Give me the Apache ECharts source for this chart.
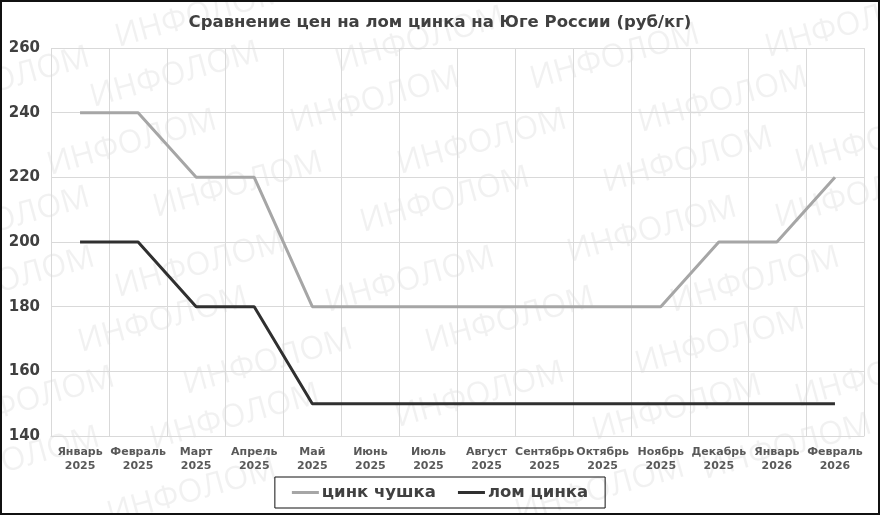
<!DOCTYPE html>
<html>
<head>
<meta charset="utf-8">
<script src="https://cdn.jsdelivr.net/npm/echarts@6/dist/echarts.min.js"></script>
<style>
html,body{margin:0;padding:0;background:#fff;}
#c{width:880px;height:515px;}
</style>
</head>
<body>
<div id="c"></div>
<script>
const categories = ['Январь\n2025','Февраль\n2025','Март\n2025','Апрель\n2025','Май\n2025','Июнь\n2025','Июль\n2025','Август\n2025','Сентябрь\n2025','Октябрь\n2025','Ноябрь\n2025','Декабрь\n2025','Январь\n2026','Февраль\n2026'];
const zincIngot = [240,240,220,220,180,180,180,180,180,180,180,200,200,220];
const zincScrap = [200,200,180,180,150,150,150,150,150,150,150,150,150,150];
const seriesNames = ['цинк чушка','лом цинка'];
const titleText = 'Сравнение цен на лом цинка на Юге России (руб/кг)';
const watermarkText = 'ИНФОЛОМ';
const watermarkSpots = [[200,15],[175,75],[132,143],[238,185],[420,40],[375,100],[482,142],[445,200],[615,57],[723,100],[688,160],[652,230],[850,25],[880,140],[860,195],[200,265],[163,320],[268,362],[235,417],[192,492],[30,400],[5,220],[5,80],[10,280],[15,460],[410,280],[510,320],[480,395],[755,280],[720,342],[677,408],[787,447],[880,375],[600,490]];

const FONT = '"DejaVu Sans", sans-serif';
const chart = echarts.init(document.getElementById('c'), null, {renderer:'canvas'});

const wm = watermarkSpots.map(p => ({
  type:'text', x:p[0], y:p[1], rotation:0.27, silent:true, z:-10,
  style:{text:watermarkText, fill:'rgba(0,0,0,0.055)', font:'32px "Open Sans", sans-serif', align:'center', verticalAlign:'middle'}
}));
wm.push({type:'rect', silent:true, z:100, shape:{x:1,y:1,width:878,height:513}, style:{fill:'none', stroke:'#111', lineWidth:2}});

chart.setOption({
  animation:false,
  backgroundColor:'#fff',
  title:{text:titleText, left:'center', top:9, textStyle:{fontFamily:FONT, fontSize:16.5, fontWeight:'bold', color:'#404040'}},
  grid:{left:51, right:16, top:48, bottom:79},
  legend:{
    data:seriesNames, left:'center', top:477, borderColor:'#111', borderWidth:1,
    padding:[7,17,7,17], itemGap:22, itemWidth:27, itemHeight:3, icon:'rect',
    textStyle:{fontFamily:FONT, fontSize:16.5, fontWeight:'bold', color:'#404040', padding:[0,0,0,-2]}
  },
  xAxis:{
    type:'category', data:categories, boundaryGap:true,
    axisLine:{lineStyle:{color:'#d9d9d9'}}, axisTick:{show:false},
    splitLine:{show:true, lineStyle:{color:'#d9d9d9', width:1}},
    axisLabel:{interval:0, margin:9, fontFamily:FONT, fontSize:11, fontWeight:'bold', color:'#595959', lineHeight:14}
  },
  yAxis:{
    type:'value', min:140, max:260, interval:20,
    axisLine:{show:false}, axisTick:{show:false},
    splitLine:{lineStyle:{color:'#d9d9d9', width:1}},
    axisLabel:{margin:11, fontFamily:FONT, fontSize:15, fontWeight:'bold', color:'#404040'}
  },
  graphic:wm,
  series:[
    {name:seriesNames[0], type:'line', data:zincIngot, symbol:'none', lineStyle:{color:'#a6a6a6', width:3}, itemStyle:{color:'#a6a6a6'}, z:3},
    {name:seriesNames[1], type:'line', data:zincScrap, symbol:'none', lineStyle:{color:'#303030', width:3}, itemStyle:{color:'#303030'}, z:4}
  ]
});
</script>
</body>
</html>
